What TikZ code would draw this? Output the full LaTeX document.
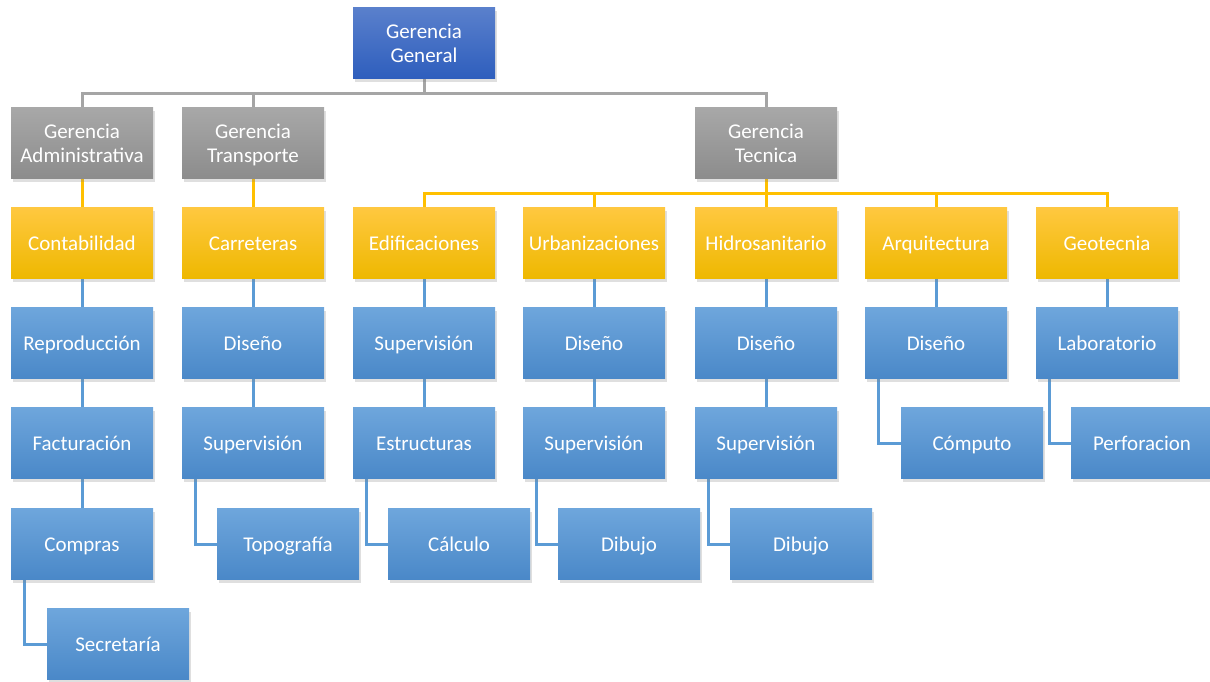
\documentclass[tikz,border=0pt]{standalone}
\usepackage{fontspec}
\setmainfont{Carlito}
\usetikzlibrary{shadows,backgrounds}
\definecolor{bTop}{HTML}{6EA6DC}
\definecolor{bBot}{HTML}{4A88C8}
\definecolor{yTop}{HTML}{FFC840}
\definecolor{yBot}{HTML}{EEB800}
\definecolor{gTop}{HTML}{A8A8A8}
\definecolor{gBot}{HTML}{8C8C8C}
\definecolor{dTop}{HTML}{5A80CC}
\definecolor{dBot}{HTML}{2E5EBD}
\definecolor{gLine}{HTML}{A5A5A5}
\definecolor{yLine}{HTML}{FFC000}
\definecolor{bLine}{HTML}{5B9BD5}
\newcommand{\twol}[2]{\raisebox{-3pt}[\height][\depth]{\begin{tabular}{@{}c@{}}#1\\#2\end{tabular}}}
\tikzset{
  box/.style={minimum width=142pt, minimum height=71pt, inner sep=0pt, text=white,
    font=\fontsize{21}{24}\selectfont,
    drop shadow={shadow xshift=2pt, shadow yshift=-3pt, opacity=0.25}},
  one/.style={text height=18pt, text depth=3pt},
  bbox/.style={box, one, top color=bTop, bottom color=bBot},
  ybox/.style={box, one, top color=yTop, bottom color=yBot},
  gbox/.style={box, top color=gTop, bottom color=gBot},
  dbox/.style={box, top color=dTop, bottom color=dBot},
  gl/.style={draw=gLine, line width=3pt},
  yl/.style={draw=yLine, line width=3pt},
  bl/.style={draw=bLine, line width=3pt},
}
\begin{document}
\begin{tikzpicture}[x=1pt,y=-1pt]
\useasboundingbox (0,0) rectangle (1210,681);
\clip (0,0) rectangle (1210,681);
% top
\node[dbox] (gg) at (424,43) {\twol{Gerencia}{General}};
\node[gbox] (ga) at (82,143) {\twol{Gerencia}{Administrativa}};
\node[gbox] (gt) at (253,143) {\twol{Gerencia}{Transporte}};
\node[gbox] (gtec) at (766,143) {\twol{Gerencia}{Tecnica}};
% yellow
\node[ybox] (y1) at (82,243) {Contabilidad};
\node[ybox] (y2) at (253,243) {Carreteras};
\node[ybox] (y3) at (424,243) {Edificaciones};
\node[ybox] (y4) at (594,243) {Urbanizaciones};
\node[ybox] (y5) at (766,243) {Hidrosanitario};
\node[ybox] (y6) at (936,243) {Arquitectura};
\node[ybox] (y7) at (1107,243) {Geotecnia};
% col1
\node[bbox] (a1) at (82,343) {Reproducción};
\node[bbox] (a2) at (82,443) {Facturación};
\node[bbox] (a3) at (82,544) {Compras};
\node[bbox] (a4) at (118,644) {Secretaría};
% col2
\node[bbox] (b1) at (253,343) {Diseño};
\node[bbox] (b2) at (253,443) {Supervisión};
\node[bbox] (b3) at (288,544) {Topografía};
% col3
\node[bbox] (c1) at (424,343) {Supervisión};
\node[bbox] (c2) at (424,443) {Estructuras};
\node[bbox] (c3) at (459,544) {Cálculo};
% col4
\node[bbox] (d1) at (594,343) {Diseño};
\node[bbox] (d2) at (594,443) {Supervisión};
\node[bbox] (d3) at (629,544) {Dibujo};
% col5
\node[bbox] (e1) at (766,343) {Diseño};
\node[bbox] (e2) at (766,443) {Supervisión};
\node[bbox] (e3) at (801,544) {Dibujo};
% col6
\node[bbox] (f1) at (936,343) {Diseño};
\node[bbox] (f2) at (972,443) {Cómputo};
% col7
\node[bbox] (h1) at (1107,343) {Laboratorio};
\node[bbox] (h2) at (1142,443) {Perforacion};
\begin{scope}[on background layer]
  \coordinate (gy) at (0,93);
  \draw[gl] (gg.south) -- (gg.south |- gy);
  \draw[gl] (ga.north) |- (gtec.north |- gy) -- (gtec.north);
  \draw[gl] (gt.north) -- (gt.north |- gy);
  \coordinate (yy) at (0,193);
  \draw[yl] (ga.south) -- (y1.north);
  \draw[yl] (gt.south) -- (y2.north);
  \draw[yl] (gtec.south) -- (gtec.south |- yy);
  \draw[yl] (y3.north) |- (y7.north |- yy) -- (y7.north);
  \foreach \n in {y4,y5,y6} \draw[yl] (\n.north) -- (\n.north |- yy);
  % blue verticals
  \draw[bl] (y1.south) -- (a1.north);
  \draw[bl] (a1.south) -- (a2.north);
  \draw[bl] (a2.south) -- (a3.north);
  \draw[bl] (y2.south) -- (b1.north);
  \draw[bl] (b1.south) -- (b2.north);
  \draw[bl] (y3.south) -- (c1.north);
  \draw[bl] (c1.south) -- (c2.north);
  \draw[bl] (y4.south) -- (d1.north);
  \draw[bl] (d1.south) -- (d2.north);
  \draw[bl] (y5.south) -- (e1.north);
  \draw[bl] (e1.south) -- (e2.north);
  \draw[bl] (y6.south) -- (f1.north);
  \draw[bl] (y7.south) -- (h1.north);
  % offset children
  \draw[bl] ([xshift=14pt]a3.south west) |- (a4.west);
  \draw[bl] ([xshift=14pt]b2.south west) |- (b3.west);
  \draw[bl] ([xshift=14pt]c2.south west) |- (c3.west);
  \draw[bl] ([xshift=14pt]d2.south west) |- (d3.west);
  \draw[bl] ([xshift=14pt]e2.south west) |- (e3.west);
  \draw[bl] ([xshift=14pt]f1.south west) |- (f2.west);
  \draw[bl] ([xshift=14pt]h1.south west) |- (h2.west);
\end{scope}
\end{tikzpicture}
\end{document}
